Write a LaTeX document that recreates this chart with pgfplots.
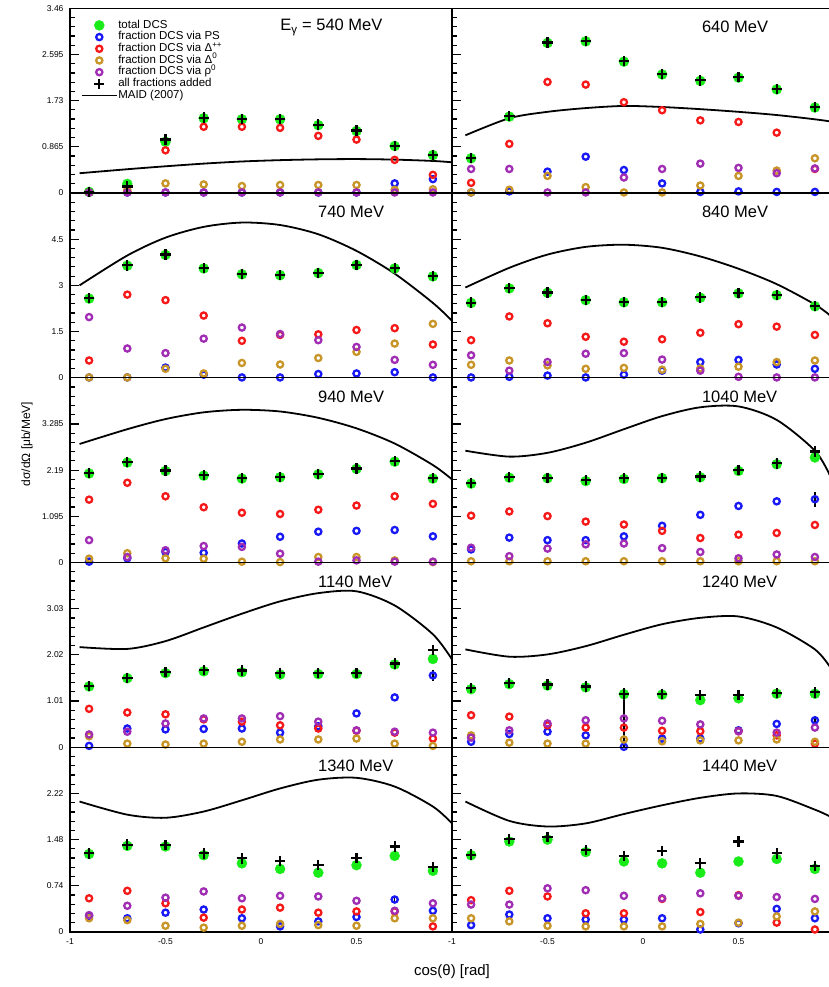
\documentclass[border=0pt]{standalone}
\usepackage{fontspec}
\setmainfont{Liberation Sans}
\usepackage{pgfplots}
\usepackage{pgfplotstable}
\pgfplotsset{compat=1.18}

\definecolor{cgreen}{RGB}{25,235,25}
\definecolor{cblue}{RGB}{25,25,245}
\definecolor{cred}{RGB}{245,25,25}
\definecolor{cgold}{RGB}{200,150,40}
\definecolor{cpurp}{RGB}{160,45,180}

% 540 MeV
\pgfplotstableread{
x tot ps dpp dz rho sum sep sem pse
-0.9 0.02 0.01 0.01 0.01 0.01 0.02 0 0 0
-0.7 0.17 0.01 0.03 0.06 0.01 0.12 0 0 0
-0.5 0.96 0.01 0.80 0.18 0.01 1.00 0 0 0
-0.3 1.40 0.01 1.24 0.16 0.01 1.41 0 0 0
-0.1 1.38 0.01 1.24 0.13 0.01 1.39 0 0 0
0.1 1.38 0.01 1.22 0.15 0.01 1.39 0 0 0
0.3 1.27 0.01 1.07 0.15 0.01 1.28 0 0 0
0.5 1.16 0.01 1.00 0.15 0.01 1.17 0 0 0
0.7 0.88 0.18 0.62 0.06 0.01 0.88 0 0 0
0.9 0.71 0.26 0.34 0.07 0.01 0.71 0 0 0
}\tA
\pgfplotstableread{
x y
-0.95 0.37
-0.7 0.445
-0.5 0.50
-0.3 0.55
-0.1 0.59
0.1 0.615
0.3 0.63
0.5 0.635
0.7 0.625
0.9 0.60
1.0 0.575
}\mA
% 640 MeV
\pgfplotstableread{
x tot ps dpp dz rho sum sep sem pse
-0.9 0.65 0.01 0.19 0.01 0.45 0.66 0 0 0
-0.7 1.43 0.03 0.92 0.06 0.45 1.44 0 0 0
-0.5 2.81 0.40 2.08 0.32 0.01 2.82 0 0 0
-0.3 2.84 0.68 2.03 0.11 0.01 2.85 0 0 0
-0.1 2.46 0.43 1.70 0.01 0.29 2.47 0 0 0
0.1 2.22 0.18 1.55 0.01 0.45 2.23 0 0 0
0.3 2.10 0.02 1.36 0.14 0.55 2.11 0 0 0
0.5 2.16 0.03 1.33 0.32 0.47 2.17 0 0 0
0.7 1.94 0.02 1.13 0.42 0.37 1.95 0 0 0
0.9 1.60 0.02 0.45 0.65 0.46 1.61 0 0 0
}\tB
\pgfplotstableread{
x y
-0.93 1.08
-0.7 1.40
-0.5 1.52
-0.3 1.59
-0.1 1.63
0.1 1.61
0.3 1.57
0.5 1.52
0.7 1.46
0.9 1.38
0.98 1.34
}\mB
% 740 MeV
\pgfplotstableread{
x tot ps dpp dz rho sum sep sem pse
-0.9 2.57 0.01 0.56 0.01 1.97 2.58 0 0 0
-0.7 3.64 0.01 2.70 0.01 0.95 3.65 0 0 0
-0.5 3.99 0.33 2.52 0.29 0.80 4.00 0 0 0
-0.3 3.55 0.10 2.02 0.14 1.27 3.56 0 0 0
-0.1 3.36 0.01 1.20 0.48 1.63 3.37 0 0 0
0.1 3.33 0.01 1.39 0.43 1.42 3.34 0 0 0
0.3 3.40 0.12 1.41 0.64 1.22 3.41 0 0 0
0.5 3.66 0.14 1.55 0.84 1.00 3.67 0 0 0
0.7 3.55 0.18 1.61 1.11 0.58 3.56 0 0 0
0.9 3.29 0.01 1.08 1.75 0.42 3.30 0 0 0
}\tC
\pgfplotstableread{
x y
-0.95 3.00
-0.7 3.97
-0.5 4.55
-0.3 4.90
-0.1 5.04
0.1 4.96
0.3 4.66
0.5 4.12
0.7 3.38
0.9 2.43
1.0 1.85
}\mC
% 840 MeV
\pgfplotstableread{
x tot ps dpp dz rho sum sep sem pse
-0.9 2.43 0.01 1.22 0.42 0.73 2.44 0 0 0
-0.7 2.90 0.03 1.99 0.56 0.23 2.91 0 0 0
-0.5 2.76 0.07 1.77 0.40 0.51 2.77 0 0 0
-0.3 2.52 0.01 1.33 0.29 0.78 2.53 0 0 0
-0.1 2.45 0.10 1.17 0.32 0.80 2.46 0 0 0
0.1 2.45 0.23 1.25 0.26 0.59 2.46 0 0 0
0.3 2.60 0.51 1.46 0.30 0.23 2.61 0 0 0
0.5 2.74 0.58 1.74 0.36 0.03 2.75 0 0 0
0.7 2.68 0.43 1.66 0.51 0.01 2.69 0 0 0
0.9 2.32 0.29 1.39 0.56 0.01 2.33 0 0 0
}\tD
\pgfplotstableread{
x y
-0.93 2.93
-0.7 3.57
-0.5 4.00
-0.3 4.25
-0.1 4.32
0.1 4.22
0.3 3.94
0.5 3.54
0.7 3.04
0.9 2.38
0.98 2.02
}\mD
% 940 MeV
\pgfplotstableread{
x tot ps dpp dz rho sum sep sem pse
-0.9 2.11 0.02 1.49 0.09 0.53 2.12 0 0 0
-0.7 2.37 0.10 1.89 0.22 0.13 2.38 0 0 0
-0.5 2.17 0.25 1.57 0.10 0.29 2.18 0 0 0
-0.3 2.06 0.23 1.31 0.09 0.39 2.07 0 0 0
-0.1 1.99 0.45 1.18 0.02 0.37 2.00 0 0 0
0.1 2.02 0.61 1.15 0.01 0.21 2.03 0 0 0
0.3 2.09 0.73 1.25 0.13 0.02 2.10 0 0 0
0.5 2.22 0.75 1.35 0.13 0.05 2.23 0 0 0
0.7 2.39 0.77 1.57 0.05 0.02 2.40 0 0 0
0.9 1.99 0.62 1.39 0.01 0.02 2.00 0 0 0
}\tE
\pgfplotstableread{
x y
-0.95 2.81
-0.7 3.16
-0.5 3.40
-0.3 3.56
-0.1 3.62
0.1 3.58
0.3 3.43
0.5 3.18
0.7 2.82
0.9 2.31
1.0 1.97
}\mE
% 1040 MeV
\pgfplotstableread{
x tot ps dpp dz rho sum sep sem pse
-0.9 1.87 0.31 1.11 0.03 0.35 1.89 0 0 0
-0.7 2.01 0.59 1.21 0.03 0.15 2.03 0 0 0
-0.5 2.00 0.53 1.10 0.03 0.33 2.01 0 0 0
-0.3 1.93 0.53 0.97 0.03 0.43 1.95 0 0 0
-0.1 1.98 0.62 0.90 0.03 0.45 2.00 0 0 0
0.1 2.00 0.87 0.75 0.03 0.34 2.01 0 0 0
0.3 2.02 1.13 0.58 0.03 0.25 2.04 0 0 0
0.5 2.17 1.34 0.66 0.03 0.10 2.19 0 0 0
0.7 2.33 1.45 0.70 0.03 0.19 2.35 0 0 0
0.9 2.49 1.50 0.89 0.03 0.13 2.63 0.14 0.14 0.18
}\tF
\pgfplotstableread{
x y
-0.93 2.65
-0.7 2.51
-0.5 2.60
-0.3 2.84
-0.1 3.16
0.1 3.47
0.3 3.68
0.5 3.70
0.7 3.38
0.9 2.65
0.98 2.05
}\mF
% 1140 MeV
\pgfplotstableread{
x tot ps dpp dz rho sum sep sem pse
-0.9 1.33 0.03 0.84 0.24 0.28 1.34 0 0 0
-0.7 1.51 0.41 0.76 0.08 0.34 1.52 0 0 0
-0.5 1.62 0.39 0.72 0.06 0.52 1.64 0 0 0
-0.3 1.66 0.40 0.61 0.08 0.63 1.69 0 0 0
-0.1 1.64 0.41 0.56 0.12 0.63 1.68 0 0 0
0.1 1.59 0.32 0.48 0.17 0.68 1.63 0 0 0
0.3 1.60 0.46 0.41 0.17 0.56 1.62 0 0 0
0.5 1.60 0.74 0.36 0.19 0.37 1.62 0 0 0
0.7 1.81 1.09 0.32 0.08 0.34 1.83 0 0 0
0.9 1.93 1.57 0.19 0.03 0.32 2.12 0.05 0.05 0.13
}\tG
\pgfplotstableread{
x y
-0.95 2.19
-0.7 2.15
-0.5 2.32
-0.3 2.62
-0.1 2.92
0.1 3.19
0.3 3.37
0.5 3.41
0.7 3.10
0.9 2.47
1.0 1.92
}\mG
% 1240 MeV
\pgfplotstableread{
x tot ps dpp dz rho sum sep sem pse
-0.9 1.27 0.12 0.70 0.26 0.21 1.29 0 0 0
-0.7 1.38 0.29 0.67 0.10 0.37 1.40 0 0 0
-0.5 1.35 0.34 0.48 0.08 0.52 1.37 0 0 0
-0.3 1.31 0.26 0.43 0.08 0.59 1.33 0 0 0
-0.1 1.16 0.01 0.43 0.17 0.63 1.17 0.12 1.17 0
0.1 1.15 0.19 0.36 0.13 0.58 1.17 0 0 0
0.3 1.03 0.19 0.35 0.15 0.50 1.14 0 0 0
0.5 1.07 0.37 0.35 0.15 0.35 1.14 0 0 0
0.7 1.17 0.51 0.26 0.17 0.32 1.18 0 0 0
0.9 1.17 0.59 0.08 0.12 0.43 1.20 0 0 0.1
}\tH
\pgfplotstableread{
x y
-0.93 2.14
-0.7 1.98
-0.5 2.03
-0.3 2.21
-0.1 2.46
0.1 2.69
0.3 2.83
0.5 2.86
0.7 2.62
0.9 2.14
0.98 1.75
}\mH
% 1340 MeV
\pgfplotstableread{
x tot ps dpp dz rho sum sep sem pse
-0.9 1.25 0.26 0.54 0.22 0.27 1.26 0 0 0
-0.7 1.38 0.22 0.66 0.19 0.42 1.40 0 0 0
-0.5 1.37 0.31 0.46 0.10 0.55 1.39 0 0 0
-0.3 1.23 0.36 0.23 0.07 0.65 1.26 0 0 0
-0.1 1.10 0.22 0.36 0.10 0.54 1.18 0 0 0
0.1 1.01 0.09 0.39 0.13 0.58 1.14 0 0 0
0.3 0.95 0.17 0.31 0.11 0.57 1.07 0 0 0
0.5 1.07 0.24 0.33 0.10 0.50 1.19 0 0 0
0.7 1.22 0.52 0.33 0.22 0.34 1.37 0 0 0.05
0.9 0.98 0.34 0.09 0.22 0.46 1.04 0 0 0
}\tI
\pgfplotstableread{
x y
-0.95 2.09
-0.7 1.88
-0.5 1.83
-0.3 1.93
-0.1 2.11
0.1 2.30
0.3 2.44
0.5 2.47
0.7 2.33
0.9 2.01
1.0 1.74
}\mI
% 1440 MeV
\pgfplotstableread{
x tot ps dpp dz rho sum sep sem pse
-0.9 1.23 0.11 0.51 0.22 0.44 1.24 0 0 0
-0.7 1.45 0.28 0.66 0.17 0.44 1.49 0 0 0
-0.5 1.48 0.22 0.57 0.10 0.70 1.52 0 0 0
-0.3 1.28 0.20 0.30 0.09 0.67 1.31 0 0 0
-0.1 1.13 0.20 0.30 0.09 0.58 1.22 0 0 0
0.1 1.10 0.22 0.53 0.09 0.54 1.30 0 0 0
0.3 0.95 0.04 0.32 0.13 0.62 1.10 0 0 0
0.5 1.13 0.14 0.59 0.15 0.58 1.45 0 0 0
0.7 1.17 0.37 0.15 0.25 0.56 1.26 0 0 0
0.9 1.01 0.22 0.04 0.33 0.53 1.06 0 0 0
}\tJ
\pgfplotstableread{
x y
-0.93 2.09
-0.7 1.78
-0.5 1.69
-0.3 1.74
-0.1 1.89
0.1 2.03
0.3 2.15
0.5 2.22
0.7 2.18
0.9 1.96
0.98 1.85
}\mJ

\pgfplotsset{
  panel/.style={
    scale only axis, width=382pt, height=184.75pt,
    xmin=-1, xmax=1, ymin=0, anchor=south west,
    axis line style={line width=1.4pt, black},
    xtick=\empty, minor xtick={-0.8,-0.6,...,0.8},
    xtick pos=left, ytick pos=left, tick align=inside,
    major tick length=9pt, minor tick length=5pt,
    minor y tick num=4,
    every tick/.style={black, line width=1.2pt},
    tick label style={font=\fontsize{8.5}{10}\selectfont, text=black},
    /pgf/number format/assume math mode=true,
    yticklabel shift=3pt, xticklabel shift=3pt,
    legend image code/.code={\draw[mark repeat=2,mark phase=2,##1] plot coordinates {(0pt,0pt) (17.5pt,0pt) (35pt,0pt)};},
  },
  rightcol/.style={yticklabels={}},
  bottomrow/.style={extra x ticks={-1,-0.5,0,0.5}, extra x tick labels={-1,-0.5,0,0.5},
    extra x tick style={major tick length=0pt}},
  maid/.style={black, line width=1.8pt, smooth, no markers},
  totst/.style={only marks, mark=*, mark size=5pt, draw=cgreen, fill=cgreen, mark options={draw=cgreen, fill=cgreen}},
  psst/.style={only marks, mark=o, mark size=3.1pt, draw=cblue, line width=2.3pt,
    error bars/.cd, y dir=both, y explicit, error mark=none, error bar style={line width=1.3pt, black}},
  dppst/.style={only marks, mark=o, mark size=3.1pt, draw=cred, line width=2.3pt},
  dzst/.style={only marks, mark=o, mark size=3.1pt, draw=cgold, line width=2.3pt},
  rhost/.style={only marks, mark=o, mark size=3.1pt, draw=cpurp, line width=2.3pt},
  sumst/.style={only marks, mark=+, mark size=5.2pt, draw=black, line width=2.2pt,
    error bars/.cd, y dir=both, y explicit, error mark=none, error bar style={line width=1.4pt, black}},
}
\tikzset{plabel/.style={anchor=west, font=\fontsize{16.5}{18}\selectfont, inner sep=0pt}}

\newcommand{\drawpanel}[2]{%
  \addplot[maid, forget plot] table[x=x,y=y]{#2};
  \addplot[totst] table[x=x,y=tot]{#1};
  \addplot[psst] table[x=x,y=ps,y error=pse]{#1};
  \addplot[dppst] table[x=x,y=dpp]{#1};
  \addplot[dzst] table[x=x,y=dz]{#1};
  \addplot[rhost] table[x=x,y=rho]{#1};
  \addplot[sumst] table[x=x,y=sum,y error plus=sep,y error minus=sem]{#1};
}

\begin{document}
\begin{tikzpicture}
\useasboundingbox (0,0) rectangle (829pt,987pt);
\clip (0,0) rectangle (829pt,987pt);

% Row 1
\begin{axis}[panel, at={(70pt,794pt)}, ymax=3.46,
  ytick={0,0.865,1.73,2.595,3.46}, yticklabels={0,0.865,1.73,2.595,3.46},
  legend style={at={(0.028,0.94)}, anchor=north west, draw=none, fill=none,
    font=\fontsize{11.5}{12}\selectfont, inner sep=0pt, row sep=0pt,
    nodes={inner sep=0.6pt, text height=8pt, text depth=2.5pt},
    /tikz/every even column/.append style={column sep=4pt}},
  legend cell align=left,
  legend entries={total DCS, fraction DCS via PS, fraction DCS via Δ\textsuperscript{++}, fraction DCS via Δ\textsuperscript{0}, fraction DCS via ρ\textsuperscript{0}, all fractions added, MAID (2007)}]
\drawpanel{\tA}{\mA}
\addlegendimage{maid}
\node[plabel] at (rel axis cs:0.55,0.897) {E\textsubscript{γ} = 540 MeV};
\end{axis}
\begin{axis}[panel, rightcol, at={(452pt,794pt)}, ymax=3.46,
  ytick={0,0.865,1.73,2.595,3.46}]
\drawpanel{\tB}{\mB}
\node[plabel] at (rel axis cs:0.654,0.897) {640 MeV};
\end{axis}

% Row 2
\begin{axis}[panel, at={(70pt,609.25pt)}, ymax=6,
  ytick={0,1.5,3,4.5,6}, yticklabels={0,1.5,3,4.5,{}}]
\drawpanel{\tC}{\mC}
\node[plabel] at (rel axis cs:0.649,0.897) {740 MeV};
\end{axis}
\begin{axis}[panel, rightcol, at={(452pt,609.25pt)}, ymax=6,
  ytick={0,1.5,3,4.5,6}]
\drawpanel{\tD}{\mD}
\node[plabel] at (rel axis cs:0.654,0.897) {840 MeV};
\end{axis}

% Row 3
\begin{axis}[panel, at={(70pt,424.5pt)}, ymax=4.38,
  ytick={0,1.095,2.19,3.285,4.38}, yticklabels={0,1.095,2.19,3.285,{}}]
\drawpanel{\tE}{\mE}
\node[plabel] at (rel axis cs:0.649,0.897) {940 MeV};
\end{axis}
\begin{axis}[panel, rightcol, at={(452pt,424.5pt)}, ymax=4.38,
  ytick={0,1.095,2.19,3.285,4.38}]
\drawpanel{\tF}{\mF}
\node[plabel] at (rel axis cs:0.654,0.897) {1040 MeV};
\end{axis}

% Row 4
\begin{axis}[panel, at={(70pt,239.75pt)}, ymax=4.04,
  ytick={0,1.01,2.02,3.03,4.04}, yticklabels={0,1.01,2.02,3.03,{}}]
\drawpanel{\tG}{\mG}
\node[plabel] at (rel axis cs:0.649,0.897) {1140 MeV};
\end{axis}
\begin{axis}[panel, rightcol, at={(452pt,239.75pt)}, ymax=4.04,
  ytick={0,1.01,2.02,3.03,4.04}]
\drawpanel{\tH}{\mH}
\node[plabel] at (rel axis cs:0.654,0.897) {1240 MeV};
\end{axis}

% Row 5
\begin{axis}[panel, bottomrow, at={(70pt,55pt)}, ymax=2.96,
  ytick={0,0.74,1.48,2.22,2.96}, yticklabels={0,0.74,1.48,2.22,{}}]
\drawpanel{\tI}{\mI}
\node[plabel] at (rel axis cs:0.649,0.897) {1340 MeV};
\end{axis}
\begin{axis}[panel, rightcol, bottomrow, at={(452pt,55pt)}, ymax=2.96,
  ytick={0,0.74,1.48,2.22,2.96}]
\drawpanel{\tJ}{\mJ}
\node[plabel] at (rel axis cs:0.654,0.897) {1440 MeV};
\end{axis}

\node[rotate=90, font=\fontsize{12}{14}\selectfont] at (27pt,543pt) {dσ/dΩ [μb/MeV]};
\node[font=\fontsize{15}{17}\selectfont] at (452pt,15pt) {cos(θ) [rad]};
\end{tikzpicture}
\end{document}
